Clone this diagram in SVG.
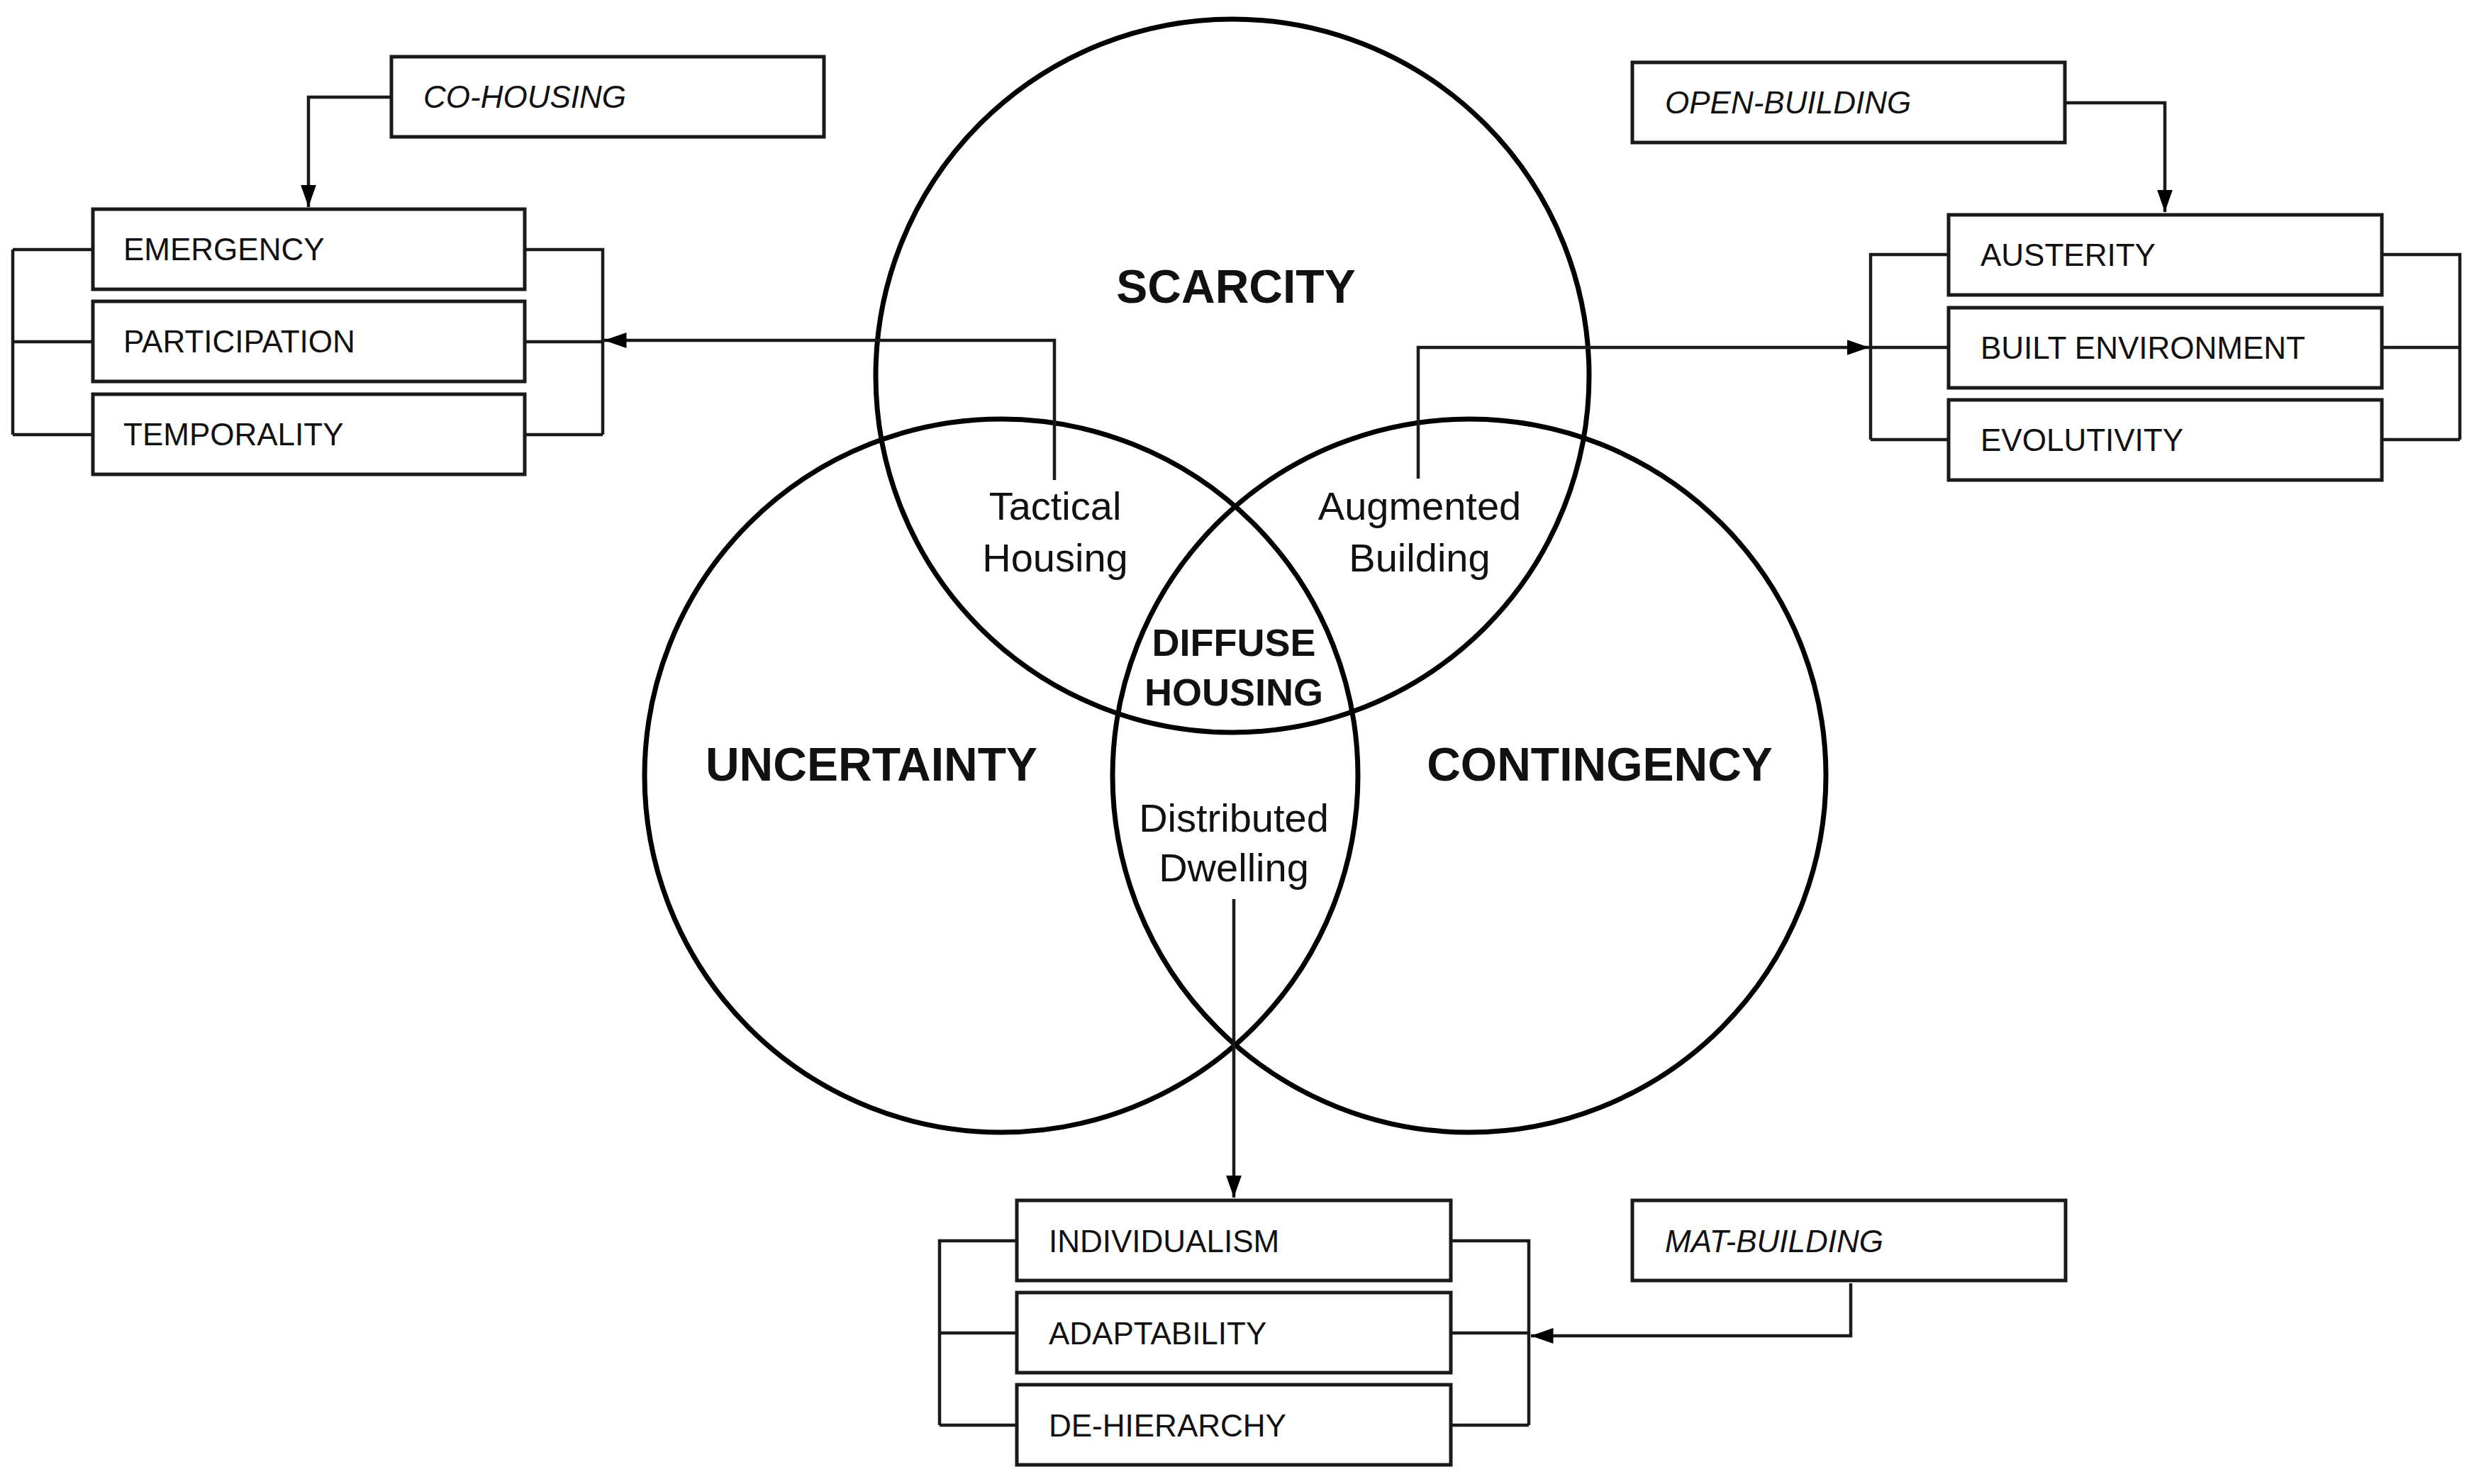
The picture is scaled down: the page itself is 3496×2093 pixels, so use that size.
<svg xmlns="http://www.w3.org/2000/svg" width="3496" height="2093" viewBox="0 0 3496 2093">
<style>
.c{fill:none;stroke:#000;stroke-width:7}
.b{fill:#fff;stroke:#1a1a1a;stroke-width:5}
.l{fill:none;stroke:#1a1a1a;stroke-width:4.5}
.t{font-family:"Liberation Sans",Arial,sans-serif;font-size:44px;fill:#111}
.i{font-style:italic}
.big{font-family:"Liberation Sans",Arial,sans-serif;font-weight:bold;font-size:66px;text-anchor:middle;fill:#111}
.mid{font-family:"Liberation Sans",Arial,sans-serif;font-size:56px;text-anchor:middle;fill:#111}
.dh{font-family:"Liberation Sans",Arial,sans-serif;font-weight:bold;font-size:54px;text-anchor:middle;fill:#111}
</style>
<defs>
<marker id="a" viewBox="0 0 10 10" refX="10" refY="5" markerWidth="7" markerHeight="7" markerUnits="strokeWidth" orient="auto"><path d="M0,1.5 L10,5 L0,8.5 Z" fill="#000"/></marker>
</defs>
<rect width="3496" height="2093" fill="#fff"/>
<g id="circles">
<circle class="c" cx="1738" cy="530" r="503"/>
<circle class="c" cx="1412" cy="1094" r="503"/>
<circle class="c" cx="2072" cy="1094" r="503"/>
</g>
<g id="connectors">
<path class="l" d="M552,137 H435 V292" marker-end="url(#a)"/>
<path class="l" d="M18,352 H131 M18,352 V613 M18,482 H131 M18,613 H131"/>
<path class="l" d="M740,352 H850 V613 M740,482 H850 M740,613 H850"/>
<path class="l" d="M1487,677 V480 H852" marker-end="url(#a)"/>
<path class="l" d="M2912,145 H3053 V299" marker-end="url(#a)"/>
<path class="l" d="M2748,359 H2638 V620 M2748,490 H2638 M2748,620 H2638"/>
<path class="l" d="M3359,359 H3469 V620 M3359,490 H3469 M3359,620 H3469"/>
<path class="l" d="M2000,675 V490 H2636" marker-end="url(#a)"/>
<path class="l" d="M1740,1268 V1689" marker-end="url(#a)"/>
<path class="l" d="M1434,1750 H1325 V2010 M1434,1880 H1325 M1434,2010 H1325"/>
<path class="l" d="M2046,1750 H2156 V2010 M2046,1880 H2156 M2046,2010 H2156"/>
<path class="l" d="M2610,1810 V1884 H2159" marker-end="url(#a)"/>
</g>
<g id="co-housing"><rect class="b" x="552" y="80" width="610" height="113"/><text class="t i" x="597" y="152">CO-HOUSING</text></g>
<g id="emergency"><rect class="b" x="131" y="295" width="609" height="113"/><text class="t" x="174" y="367">EMERGENCY</text></g>
<g id="participation"><rect class="b" x="131" y="425" width="609" height="113"/><text class="t" x="174" y="497">PARTICIPATION</text></g>
<g id="temporality"><rect class="b" x="131" y="556" width="609" height="113"/><text class="t" x="174" y="628">TEMPORALITY</text></g>
<g id="open-building"><rect class="b" x="2302" y="88" width="610" height="113"/><text class="t i" x="2348" y="160">OPEN-BUILDING</text></g>
<g id="austerity"><rect class="b" x="2748" y="303" width="611" height="113"/><text class="t" x="2793" y="375">AUSTERITY</text></g>
<g id="built-environment"><rect class="b" x="2748" y="434" width="611" height="113"/><text class="t" x="2793" y="506">BUILT ENVIRONMENT</text></g>
<g id="evolutivity"><rect class="b" x="2748" y="564" width="611" height="113"/><text class="t" x="2793" y="636">EVOLUTIVITY</text></g>
<g id="individualism"><rect class="b" x="1434" y="1693" width="612" height="113"/><text class="t" x="1479" y="1766">INDIVIDUALISM</text></g>
<g id="adaptability"><rect class="b" x="1434" y="1823" width="612" height="113"/><text class="t" x="1479" y="1896">ADAPTABILITY</text></g>
<g id="de-hierarchy"><rect class="b" x="1434" y="1953" width="612" height="113"/><text class="t" x="1479" y="2026">DE-HIERARCHY</text></g>
<g id="mat-building"><rect class="b" x="2302" y="1693" width="611" height="113"/><text class="t i" x="2348" y="1766">MAT-BUILDING</text></g>
<g id="scarcity"><text class="big" x="1743" y="427">SCARCITY</text></g>
<g id="uncertainty"><text class="big" x="1229" y="1101">UNCERTAINTY</text></g>
<g id="contingency"><text class="big" x="2256" y="1101">CONTINGENCY</text></g>
<g id="tactical"><text class="mid" x="1488" y="733">Tactical</text><text class="mid" x="1488" y="806">Housing</text></g>
<g id="augmented"><text class="mid" x="2002" y="733">Augmented</text><text class="mid" x="2002" y="806">Building</text></g>
<g id="diffuse"><text class="dh" x="1740" y="925">DIFFUSE</text><text class="dh" x="1740" y="995">HOUSING</text></g>
<g id="distributed"><text class="mid" x="1740" y="1173">Distributed</text><text class="mid" x="1740" y="1243">Dwelling</text></g>
</svg>
